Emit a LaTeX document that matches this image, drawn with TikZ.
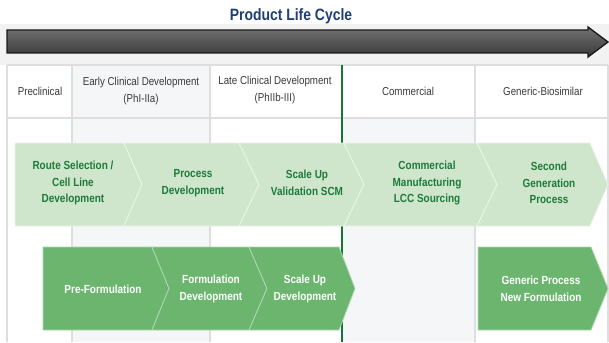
\documentclass[tikz,border=0pt]{standalone}
\usepackage{fontspec}
\setmainfont{Liberation Sans}[FakeStretch=0.85]
\usepackage{tikz}
\usetikzlibrary{arrows.meta}
\tikzset{>=latex}

\definecolor{titleblue}{RGB}{31,62,115}
\definecolor{bandgray}{RGB}{242,242,242}
\definecolor{gridgray}{RGB}{222,222,222}
\definecolor{colgray}{RGB}{245,246,248}
\definecolor{hdrgray}{RGB}{58,58,58}
\definecolor{palegreen}{RGB}{207,230,204}
\definecolor{leafgreen}{RGB}{107,181,111}
\definecolor{textgreen}{RGB}{30,122,58}
\definecolor{linegreen}{RGB}{23,116,58}

\tikzset{
  hdr/.style={font=\fontsize{8.6}{12.75}\selectfont, text=hdrgray, align=center},
  stage/.style={font=\bfseries\fontsize{8.8}{12.5}\selectfont, align=center},
  palechev/.style={fill=palegreen, draw=white!60!palegreen, line width=0.6pt},
  leafchev/.style={fill=leafgreen, draw=white!45!leafgreen, line width=0.6pt},
}

\begin{document}
\begin{tikzpicture}[x=0.75pt, y=-0.75pt]
    \useasboundingbox (0,0) rectangle (609,342);
    \fill[white] (0,0) rectangle (609,342);
    \fill[bandgray] (0,24) rectangle (609,65);

    \node[font=\bfseries\fontsize{12.3}{14}\selectfont, text=titleblue] (title) at (291,16) {Product Life Cycle};

    \shadedraw[top color=black!55, middle color=black!42, bottom color=black!78, draw=black!90, line width=1pt]
      (7,30) -- (588,30) -- (588,27) -- (608,42) -- (588,57) -- (588,53) -- (7,53) -- cycle;

    \fill[colgray] (72,65) rectangle (210,342);
    \fill[colgray] (342,118) rectangle (475,342);
    \begin{scope}[draw=gridgray, line width=0.8pt]
      \draw (7,65) -- (608,65);
      \draw (7,118) -- (608,118);
      \draw (7,65) -- (7,342);
      \draw (72,65) -- (72,342);
      \draw (210,65) -- (210,342);
      \draw (475,65) -- (475,342);
      \draw (608,65) -- (608,342);
    \end{scope}
    \draw[linegreen, line width=1.5pt] (342,65) -- (342,342);

    \node[hdr] (precl) at (40,91) {Preclinical};
    \node[hdr] (early) at (141,91) {Early Clinical Development\\(PhI-IIa)};
    \node[hdr] (late) at (275,90) {Late Clinical Development\\(PhIIb-III)};
    \node[hdr] (comm) at (408,91) {Commercial};
    \node[hdr] (generic) at (543,91) {Generic-Biosimilar};

    \filldraw[palechev] (15,143) -- (124,143) -- (142,184.5) -- (124,226) -- (15,226) -- cycle;
    \filldraw[palechev] (124,143) -- (239,143) -- (259,184.5) -- (239,226) -- (124,226) -- (142,184.5) -- cycle;
    \filldraw[palechev] (239,143) -- (344,143) -- (364,184.5) -- (344,226) -- (239,226) -- (259,184.5) -- cycle;
    \filldraw[palechev] (344,143) -- (477,143) -- (497,184.5) -- (477,226) -- (344,226) -- (364,184.5) -- cycle;
    \filldraw[palechev] (477,143) -- (590,143) -- (608,184.5) -- (590,226) -- (477,226) -- (497,184.5) -- cycle;
    \begin{scope}[stage, text=textgreen]
      \node (route) at (73,183) {Route Selection /\\Cell Line\\Development};
      \node (procdev) at (193,183) {Process\\Development};
      \node (scaleval) at (307,183) {Scale Up\\Validation SCM};
      \node (commfg) at (427,183) {Commercial\\Manufacturing\\LCC Sourcing};
      \node (secgen) at (549,183) {Second\\Generation\\Process};
    \end{scope}

    \filldraw[leafchev] (43,247) -- (152,247) -- (169,288.5) -- (152,330) -- (43,330) -- cycle;
    \filldraw[leafchev] (152,247) -- (249,247) -- (267,288.5) -- (249,330) -- (152,330) -- (169,288.5) -- cycle;
    \filldraw[leafchev] (249,247) -- (339,247) -- (355,288.5) -- (339,330) -- (249,330) -- (267,288.5) -- cycle;
    \filldraw[leafchev] (478,247) -- (591,247) -- (608,288.5) -- (591,330) -- (478,330) -- cycle;
    \begin{scope}[stage, text=white]
      \node (preform) at (103,289) {Pre-Formulation};
      \node (formdev) at (211,289) {Formulation\\Development};
      \node (scaledev) at (305,289) {Scale Up\\Development};
      \node (genproc) at (541,289) {Generic Process\\New Formulation};
    \end{scope}
\end{tikzpicture}
\end{document}
